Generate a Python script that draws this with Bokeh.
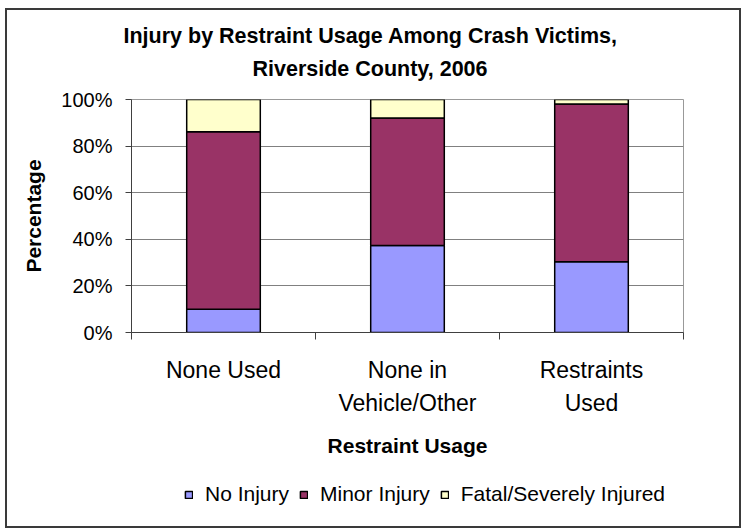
from bokeh.plotting import figure
from bokeh.layouts import column
from bokeh.models import (Range1d, FixedTicker, PrintfTickFormatter, Title, Legend,
                          ColumnDataSource, LinearAxis)
from bokeh.embed import file_html
from bokeh.resources import INLINE

categories = ["None Used", "None in\nVehicle/Other", "Restraints\nUsed"]
series = ["No Injury", "Minor Injury", "Fatal/Severely Injured"]
no_injury = [10.0, 37.3, 30.4]
minor_injury = [76.2, 54.8, 67.7]
fatal_severe = [13.8, 7.9, 1.9]
y_ticks = [0, 20, 40, 60, 80, 100]
colors = ["#9999FF", "#993366", "#FFFFCC"]
title_lines = ["Injury by Restraint Usage Among Crash Victims,", "Riverside County, 2006"]

FONT = "Liberation Sans"

xs = [i + 0.5 for i in range(len(categories))]
line1 = [c.split("\n")[0] for c in categories]
line2 = [c.split("\n")[1] if "\n" in c else "" for c in categories]

source = ColumnDataSource(dict(x=xs, **{
    series[0]: no_injury, series[1]: minor_injury, series[2]: fatal_severe}))

p = figure(width=732, height=462, output_backend="svg", toolbar_location=None,
           x_range=Range1d(0, len(categories)), y_range=Range1d(0, 100),
           min_border_left=124, min_border_right=56, min_border_top=89, min_border_bottom=140)

renderers = p.vbar_stack(series, x="x", width=0.4, source=source, color=colors,
                         line_color="black", line_width=1.5)

# Y axis
yax = p.yaxis[0]
yax.ticker = FixedTicker(ticks=y_ticks)
yax.formatter = PrintfTickFormatter(format="%d%%")
yax.major_label_text_font = FONT
yax.major_label_text_font_size = "20px"
yax.major_label_text_color = "black"
yax.major_tick_out = 6
yax.major_tick_in = 0
yax.minor_tick_line_color = None
yax.axis_line_color = "#404040"
yax.major_tick_line_color = "#404040"
yax.major_label_standoff = 13
yax.axis_label = "Percentage"
yax.axis_label_text_font = FONT
yax.axis_label_text_font_style = "bold"
yax.axis_label_text_font_size = "21px"
yax.axis_label_text_color = "black"
yax.axis_label_standoff = 13

# X axis, first label line, tick marks at category boundaries
xax = p.xaxis[0]
xax.ticker = FixedTicker(ticks=xs, minor_ticks=list(range(len(categories) + 1)))
xax.major_label_overrides = {x: t for x, t in zip(xs, line1)}
xax.major_label_text_font = FONT
xax.major_label_text_font_size = "23px"
xax.major_label_text_color = "black"
xax.major_tick_line_color = None
xax.major_tick_out = 7
xax.minor_tick_out = 7
xax.minor_tick_in = 0
xax.minor_tick_line_color = "#404040"
xax.axis_line_color = "#404040"
xax.major_label_standoff = 17

# X axis, second label line and axis title
xax2 = LinearAxis(ticker=FixedTicker(ticks=xs),
                  major_label_overrides={x: t for x, t in zip(xs, line2)})
xax2.major_label_text_font = FONT
xax2.major_label_text_font_size = "23px"
xax2.major_label_text_color = "black"
xax2.axis_line_color = None
xax2.major_tick_line_color = None
xax2.minor_tick_line_color = None
xax2.major_tick_out = 0
xax2.major_tick_in = 0
xax2.major_label_standoff = 4
xax2.axis_label = "Restraint Usage"
xax2.axis_label_text_font = FONT
xax2.axis_label_text_font_style = "bold"
xax2.axis_label_text_font_size = "21px"
xax2.axis_label_text_color = "black"
xax2.axis_label_standoff = 15
p.add_layout(xax2, "below")

p.xgrid.grid_line_color = None
p.ygrid.ticker = FixedTicker(ticks=y_ticks)
p.ygrid.grid_line_color = "#808080"
p.ygrid.grid_line_width = 1
p.outline_line_color = "#999999"
p.background_fill_color = "white"
p.border_fill_color = "white"

# Titles (added nearest-first), centred over the whole chart area
p.add_layout(Title(text=" ", text_font_size="1px", standoff=9), "above")
p.add_layout(Title(text=title_lines[1], align="left", offset=121, text_font=FONT,
                   text_color="black", text_font_size="21.5px", text_font_style="bold",
                   standoff=14), "above")
p.add_layout(Title(text=title_lines[0], align="left", offset=-8, text_font=FONT,
                   text_color="black", text_font_size="21.5px", text_font_style="bold",
                   standoff=0), "above")

# Legend strip below the chart (its renderers are hidden; only the legend shows)
lf = figure(width=732, height=54, output_backend="svg", toolbar_location=None,
            x_range=Range1d(0, len(categories)), y_range=Range1d(0, 100),
            min_border_left=0, min_border_right=0, min_border_top=0, min_border_bottom=0)
lf.axis.visible = False
lf.grid.grid_line_color = None
lf.outline_line_color = None
lf.background_fill_color = "white"
lf.border_fill_color = "white"
leg_renderers = lf.vbar_stack(series, x="x", width=0.4, source=source, color=colors,
                              line_color="black", line_width=1.5)
for r in leg_renderers:
    r.visible = False
legend = Legend(items=[(s, [r]) for s, r in zip(series, leg_renderers)],
                orientation="horizontal", location=(53, 20),
                label_text_font=FONT, label_text_font_size="21px", label_text_color="black",
                glyph_width=9, glyph_height=9, label_standoff=12, spacing=10,
                padding=0, margin=0, border_line_color=None, background_fill_alpha=0,
                inactive_fill_alpha=0)
lf.add_layout(legend, "center")

layout = column(p, lf, spacing=0,
                styles={"margin-left": "5px", "margin-top": "8px",
                        "border": "2px solid #3a3a3a"})

open("out.html", "w").write(file_html(layout, INLINE))
